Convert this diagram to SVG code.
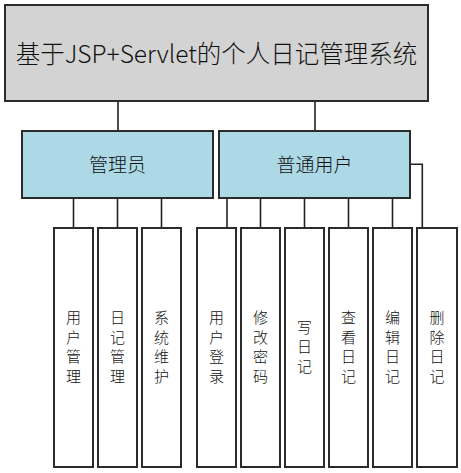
<svg xmlns="http://www.w3.org/2000/svg" width="461" height="473" viewBox="0 0 461 473">
<style>
.box{stroke:#2b2b2b;stroke-width:2}
.root{fill:#d3d3d3}
.mid{fill:#add8e6}
.leaf{fill:#ffffff}
.wire{fill:none;stroke:#222;stroke-width:1.6}
text{font-family:"Noto Sans CJK SC","Noto Sans",sans-serif;fill:#111;text-anchor:middle;dominant-baseline:central;font-weight:300}
.t1{font-size:24.5px}
.t2{font-size:19px}
.t3{font-size:15px}
</style>
<rect width="461" height="473" fill="#ffffff"/>
<g id="connectors">
<path class="wire" d="M118,101V131M315,101V131"/>
<path class="wire" d="M73.5,198V228M117.5,198V228M161.5,198V228"/>
<path class="wire" d="M227,198V228M260.5,198V228M304.5,198V228M348.5,198V228M392.5,198V228"/>
<path class="wire" d="M410,164.3H422.3V228"/>
</g>
<g id="root"><rect class="box root" x="5" y="5" width="423" height="96"/><text class="t1" x="216.5" y="52">基于JSP+Servlet的个人日记管理系统</text></g>
<g id="admin"><rect class="box mid" x="22" y="131" width="191" height="67"/><text class="t2" x="117.5" y="163">管理员</text></g>
<g id="user"><rect class="box mid" x="219" y="131" width="191" height="67"/><text class="t2" x="314.5" y="163">普通用户</text></g>
<g id="leaf1"><rect class="box leaf" x="54" y="228" width="39" height="239"/><text class="t3" x="73.5"><tspan x="73.5" y="316">用</tspan><tspan x="73.5" y="335.5">户</tspan><tspan x="73.5" y="355">管</tspan><tspan x="73.5" y="374.5">理</tspan></text></g>
<g id="leaf2"><rect class="box leaf" x="98" y="228" width="39" height="239"/><text class="t3" x="117.5"><tspan x="117.5" y="316">日</tspan><tspan x="117.5" y="335.5">记</tspan><tspan x="117.5" y="355">管</tspan><tspan x="117.5" y="374.5">理</tspan></text></g>
<g id="leaf3"><rect class="box leaf" x="142" y="228" width="39" height="239"/><text class="t3" x="161.5"><tspan x="161.5" y="316">系</tspan><tspan x="161.5" y="335.5">统</tspan><tspan x="161.5" y="355">维</tspan><tspan x="161.5" y="374.5">护</tspan></text></g>
<g id="leaf4"><rect class="box leaf" x="197" y="228" width="39" height="239"/><text class="t3" x="216.5"><tspan x="216.5" y="316">用</tspan><tspan x="216.5" y="335.5">户</tspan><tspan x="216.5" y="355">登</tspan><tspan x="216.5" y="374.5">录</tspan></text></g>
<g id="leaf5"><rect class="box leaf" x="241" y="228" width="39" height="239"/><text class="t3" x="260.5"><tspan x="260.5" y="316">修</tspan><tspan x="260.5" y="335.5">改</tspan><tspan x="260.5" y="355">密</tspan><tspan x="260.5" y="374.5">码</tspan></text></g>
<g id="leaf6"><rect class="box leaf" x="285" y="228" width="39" height="239"/><text class="t3" x="304.5"><tspan x="304.5" y="325.5">写</tspan><tspan x="304.5" y="345">日</tspan><tspan x="304.5" y="364.5">记</tspan></text></g>
<g id="leaf7"><rect class="box leaf" x="329" y="228" width="39" height="239"/><text class="t3" x="348.5"><tspan x="348.5" y="316">查</tspan><tspan x="348.5" y="335.5">看</tspan><tspan x="348.5" y="355">日</tspan><tspan x="348.5" y="374.5">记</tspan></text></g>
<g id="leaf8"><rect class="box leaf" x="373" y="228" width="39" height="239"/><text class="t3" x="392.5"><tspan x="392.5" y="316">编</tspan><tspan x="392.5" y="335.5">辑</tspan><tspan x="392.5" y="355">日</tspan><tspan x="392.5" y="374.5">记</tspan></text></g>
<g id="leaf9"><rect class="box leaf" x="417" y="228" width="40" height="239"/><text class="t3" x="437"><tspan x="437" y="316">删</tspan><tspan x="437" y="335.5">除</tspan><tspan x="437" y="355">日</tspan><tspan x="437" y="374.5">记</tspan></text></g>
</svg>
